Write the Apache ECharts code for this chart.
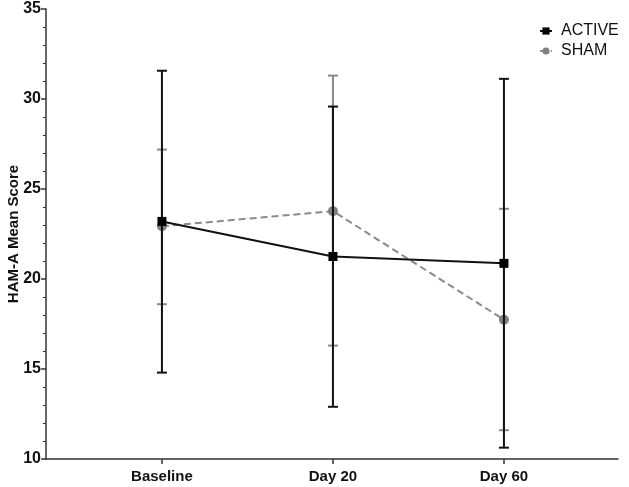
<!DOCTYPE html>
<html>
<head>
<meta charset="utf-8">
<script src="https://cdn.jsdelivr.net/npm/echarts@6/dist/echarts.min.js"></script>
<style>html,body{margin:0;padding:0;background:#fff}#c{width:629px;height:487px}</style>
</head>
<body>
<div id="c"></div>
<script>
var categories = ['Baseline', 'Day 20', 'Day 60'];
var activeMean = [23.2, 21.25, 20.87];
var activeLow  = [14.8, 12.9, 10.63];
var activeHigh = [31.57, 29.58, 31.12];
var shamMean = [22.93, 23.77, 17.74];
var shamLow  = [18.6, 16.3, 11.6];
var shamHigh = [27.19, 31.3, 23.9];

function pts(arr){ return arr.map(function(v,i){ return [i, v]; }); }
function bars(lo, hi){ return lo.map(function(v,i){ return [i, v, hi[i]]; }); }

function errRender(color, capW){
  return function(params, api){
    var x = api.value(0);
    var p1 = api.coord([x, api.value(1)]);
    var p2 = api.coord([x, api.value(2)]);
    var st = {stroke: color, lineWidth: 2};
    return {type:'group', children:[
      {type:'line', shape:{x1:p1[0], y1:p1[1], x2:p2[0], y2:p2[1]}, style:st},
      {type:'line', shape:{x1:p1[0]-capW, y1:p1[1], x2:p1[0]+capW, y2:p1[1]}, style:st},
      {type:'line', shape:{x1:p2[0]-capW, y1:p2[1], x2:p2[0]+capW, y2:p2[1]}, style:st}
    ]};
  };
}

var FF = 'Liberation Sans, Arial, sans-serif';
var chart = echarts.init(document.getElementById('c'), null, {renderer:'canvas'});
chart.setOption({
  animation:false,
  backgroundColor:'#fff',
  grid:{left:46, right:11, top:9, bottom:28, containLabel:false, outerBoundsMode:'none'},
  legend:{
    orient:'vertical', left:534, top:18, itemGap:4, itemWidth:12, itemHeight:9,
    textStyle:{fontFamily:FF, fontSize:16, color:'#111', padding:[0,0,0,4]},
    data:['ACTIVE', 'SHAM']
  },
  xAxis:{
    type:'value', min:-0.678, max:2.667,
    splitLine:{show:false},
    axisLine:{onZero:false, lineStyle:{color:'#333', width:1.5}},
    axisTick:{show:true, customValues:[0,1,2], length:5, lineStyle:{color:'#333', width:1.5}},
    axisLabel:{customValues:[0,1,2], margin:10, formatter:function(v){ return categories[Math.round(v)]; }, fontFamily:FF, fontWeight:'bold', fontSize:15, color:'#111'}
  },
  yAxis:{
    type:'value', min:10, max:35, interval:5,
    name:'HAM-A Mean Score', nameLocation:'middle', nameGap:25, nameMoveOverlap:false,
    nameTextStyle:{fontFamily:FF, fontWeight:'bold', fontSize:15, color:'#111'},
    splitLine:{show:false},
    axisLine:{show:true, onZero:false, lineStyle:{color:'#333', width:1.5}},
    axisTick:{show:true, length:5, lineStyle:{color:'#333', width:1.5}},
    minorTick:{show:true, splitNumber:5, length:3, lineStyle:{color:'#333', width:1}},
    axisLabel:{margin:5, fontFamily:FF, fontWeight:'bold', fontSize:16, color:'#111'}
  },
  series:[
    {type:'custom', name:'shamErr', renderItem:errRender('#8a8a8a', 5), data:bars(shamLow, shamHigh), z:1, silent:true},
    {type:'line', name:'SHAM', data:pts(shamMean), symbol:'circle', symbolSize:10,
      itemStyle:{color:'#808080'}, lineStyle:{color:'#8a8a8a', width:2, type:[7,4]}, z:2},
    {type:'custom', name:'activeErr', renderItem:errRender('#111', 5), data:bars(activeLow, activeHigh), z:3, silent:true},
    {type:'line', name:'ACTIVE', data:pts(activeMean), symbol:'rect', symbolSize:9,
      itemStyle:{color:'#000'}, lineStyle:{color:'#111', width:2}, z:4}
  ]
});
</script>
</body>
</html>
